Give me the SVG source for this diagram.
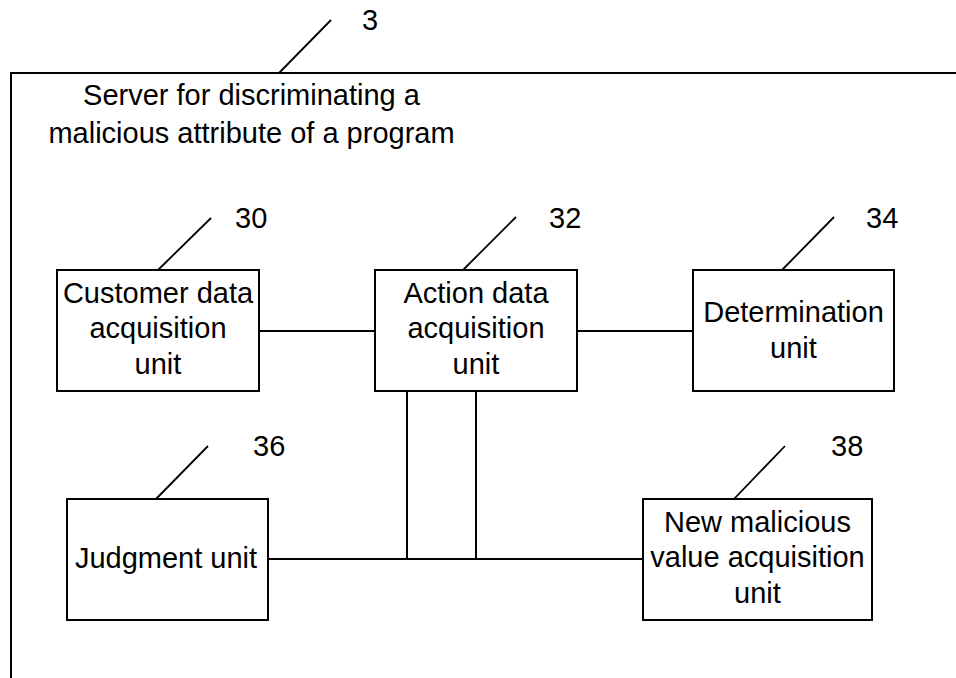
<svg xmlns="http://www.w3.org/2000/svg" width="956" height="678" viewBox="0 0 956 678">
  <style>
    .box { fill: #fff; stroke: #000; stroke-width: 2; }
    .ln { fill: none; stroke: #000; stroke-width: 2; }
    .lead { fill: none; stroke: #000; stroke-width: 1.8; }
    text { font-family: "Liberation Sans", Arial, sans-serif; font-size: 29px; fill: #000; }
    .c { text-anchor: middle; }
  </style>
  <rect width="956" height="678" fill="#fff"/>

  <!-- server frame 3 -->
  <g id="server">
    <path class="ln" d="M11,678 V73 H958"/>
    <line class="lead" x1="279" y1="73" x2="331" y2="20"/>
    <text x="362" y="30">3</text>
    <text class="c" x="251.5" y="105">Server for discriminating a</text>
    <text class="c" x="251.5" y="143">malicious attribute of a program</text>
  </g>

  <!-- connectors -->
  <g id="connectors">
    <line class="ln" x1="259" y1="331" x2="375" y2="331"/>
    <line class="ln" x1="577" y1="331" x2="693" y2="331"/>
    <line class="ln" x1="407" y1="391" x2="407" y2="559"/>
    <line class="ln" x1="476" y1="391" x2="476" y2="559"/>
    <line class="ln" x1="268" y1="559" x2="643" y2="559"/>
  </g>

  <g id="unit30">
    <rect class="box" x="57" y="270" width="202" height="121"/>
    <line class="lead" x1="158" y1="270" x2="211" y2="218"/>
    <text x="235" y="228">30</text>
    <text class="c" x="158" y="303">Customer data</text>
    <text class="c" x="158" y="338">acquisition</text>
    <text class="c" x="158" y="374">unit</text>
  </g>

  <g id="unit32">
    <rect class="box" x="375" y="270" width="202" height="121"/>
    <line class="lead" x1="463" y1="270" x2="516" y2="217"/>
    <text x="549" y="228">32</text>
    <text class="c" x="476" y="303">Action data</text>
    <text class="c" x="476" y="338">acquisition</text>
    <text class="c" x="476" y="374">unit</text>
  </g>

  <g id="unit34">
    <rect class="box" x="693" y="270" width="201" height="121"/>
    <line class="lead" x1="782" y1="270" x2="834" y2="217"/>
    <text x="866" y="228">34</text>
    <text class="c" x="793.5" y="322">Determination</text>
    <text class="c" x="793.5" y="358">unit</text>
  </g>

  <g id="unit36">
    <rect class="box" x="67" y="499" width="201" height="121"/>
    <line class="lead" x1="156" y1="499" x2="208" y2="446"/>
    <text x="253" y="456">36</text>
    <text class="c" x="166" y="568">Judgment unit</text>
  </g>

  <g id="unit38">
    <rect class="box" x="643" y="499" width="229" height="121"/>
    <line class="lead" x1="734" y1="499" x2="785" y2="446"/>
    <text x="831" y="456">38</text>
    <text class="c" x="757.5" y="532">New malicious</text>
    <text class="c" x="757.5" y="567">value acquisition</text>
    <text class="c" x="757.5" y="603">unit</text>
  </g>
</svg>
